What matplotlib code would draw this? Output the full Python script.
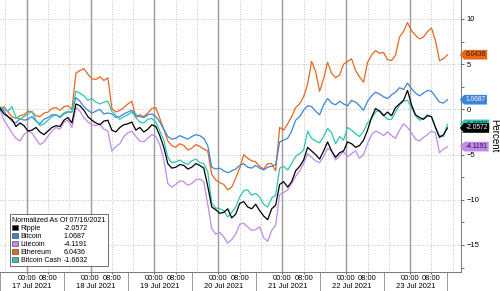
import matplotlib
matplotlib.use("Agg")
import matplotlib.dates as mdates
import matplotlib.pyplot as plt
import pandas as pd
from matplotlib.patches import Patch
from matplotlib.path import Path
from matplotlib.ticker import MultipleLocator

plt.rcParams["font.family"] = ["Liberation Sans", "DejaVu Sans"]

# samples every 1.5 h, starting 16 Jul 14:00
START = "2021-07-16 14:00"
STEP = "90min"

ripple = [0.1, -0.5, -0.8, -1.1, -1.9, -1.5, -1.8, -2.4, -2.3, -2.0,
          -2.5, -2.8, -2.4, -2.0, -1.8, -1.9, -1.2, -0.9, -1.5, 0.6,
          0.4, -0.1, -0.8, -1.2, -1.5, -1.7, -1.3, -1.2, -2.3, -2.5,
          -2.0, -1.7, -1.6, -1.4, -2.3, -2.0, -2.5, -2.2, -1.7, -1.9,
          -2.9, -4.2, -6.0, -6.5, -6.4, -6.1, -6.2, -6.6, -6.4, -6.0,
          -6.2, -6.5, -8.5, -10.8, -11.1, -11.5, -11.4, -11.0, -12.0, -11.6,
          -10.4, -10.2, -10.8, -11.0, -10.5, -11.2, -11.8, -12.2, -11.0, -10.6,
          -8.3, -8.0, -8.6, -8.0, -6.8, -6.3, -5.6, -4.2, -4.6, -5.0,
          -5.5, -4.6, -3.6, -4.6, -5.3, -4.8, -4.6, -3.6, -3.8, -4.2,
          -4.0, -3.4, -2.3, -0.9, 0.1, -0.2, -0.7, -0.3, -0.7, 0.2,
          0.6, 1.0, 2.1, 0.5, -0.6, -0.9, -1.1, -0.7, -0.8, -2.0,
          -3.1, -2.8, -2.0572]
bitcoin = [0.2, -0.2, -0.8, -1.3, -1.5, -1.0, -1.2, -1.1, -0.8, -1.3,
           -1.6, -1.1, -0.9, -0.6, -0.6, -0.9, -0.5, -0.3, -0.3, 1.3,
           0.9, 0.3, -0.1, -0.4, -0.2, 0.0, -0.5, -0.4, -0.5, -0.9,
           -0.8, -0.5, -0.3, -0.1, -0.6, -0.8, -0.9, -0.6, -0.5, -0.8,
           -1.4, -2.2, -3.0, -3.3, -3.2, -2.9, -3.1, -3.3, -3.0, -2.8,
           -2.9, -3.2, -4.0, -6.4, -6.6, -6.5, -6.8, -7.0, -6.8, -6.6,
           -6.2, -6.0, -6.4, -6.5, -6.2, -6.5, -6.7, -6.4, -6.3, -6.1,
           -3.6, -3.4, -3.2, -2.4, -1.2, -0.8, -0.1, 0.4, 0.3, -0.2,
           -0.6, 0.5, 1.2, 0.7, 0.5, 0.9, 0.6, 0.4, 1.0, 0.8,
           0.4, -0.1, 0.9, 1.5, 1.9, 1.7, 1.4, 1.2, 1.6, 1.9,
           2.4, 2.2, 2.9, 2.3, 1.8, 1.5, 1.8, 2.1, 2.0, 1.4,
           0.8, 0.7, 1.0687]
litecoin = [0.0, -1.2, -1.9, -2.6, -3.2, -3.5, -2.8, -2.4, -2.6, -3.3,
            -3.9, -3.6, -3.0, -2.4, -2.0, -2.2, -1.4, -1.2, -2.0, 0.2,
            -0.2, -0.9, -1.4, -1.7, -1.8, -1.6, -2.2, -2.4, -4.6, -4.1,
            -3.8, -3.0, -2.6, -2.4, -3.0, -3.5, -3.6, -3.2, -2.8, -3.0,
            -3.9, -5.6, -8.2, -8.6, -8.3, -7.9, -8.0, -8.4, -8.2, -7.8,
            -7.7, -8.0, -10.5, -13.2, -13.8, -13.6, -14.1, -14.8, -14.4, -13.8,
            -12.7, -12.6, -13.0, -13.4, -13.3, -13.0, -14.2, -14.6, -13.4, -12.8,
            -9.4, -9.2, -8.9, -8.2, -7.4, -6.8, -6.0, -4.9, -5.3, -5.7,
            -5.9, -5.2, -4.3, -4.6, -5.6, -5.1, -4.7, -5.2, -4.9, -4.6,
            -5.4, -5.0, -3.8, -2.8, -2.4, -2.6, -2.9, -2.5, -2.9, -3.2,
            -2.3, -1.6, -2.0, -2.6, -3.3, -3.5, -3.1, -2.8, -2.4, -2.6,
            -4.8, -4.4, -4.1191]
ethereum = [0.1, 0.3, -0.3, -0.8, -1.0, -0.7, -0.6, -0.2, -0.3, -0.7,
            -0.8, -0.4, -0.3, 0.1, 0.2, -0.1, 0.3, 0.4, 0.0, 4.0,
            4.3, 4.5, 3.9, 3.4, 3.3, 3.6, 3.2, 3.5, 0.1, -0.3,
            -0.1, 0.2, 0.6, 0.9, -0.9, -0.6, -0.8, -0.4, 0.1, 0.2,
            -1.0, -2.2, -3.5, -4.0, -4.2, -3.8, -4.0, -4.5, -4.3, -3.9,
            -4.1, -4.4, -4.6, -7.2, -7.8, -8.1, -8.3, -8.9, -8.6, -7.6,
            -6.5, -5.0, -5.4, -5.7, -5.8, -6.3, -6.6, -6.0, -6.0, -6.8,
            -2.0, -2.3, -1.6, -0.8, 0.2, 0.6, 1.4, 2.8, 5.3, 4.2,
            2.0, 3.4, 5.2, 4.0, 3.5, 3.8, 5.0, 5.3, 5.6, 4.3,
            3.6, 3.0, 5.2, 6.0, 6.5, 6.2, 6.3, 5.5, 5.4, 6.0,
            8.0, 8.6, 9.6, 8.7, 8.2, 7.8, 8.0, 8.6, 9.0, 7.6,
            5.4, 5.6, 6.0436]
bitcoin_cash = [0.3, 0.0, -0.2, 0.3, -0.9, -1.1, -0.8, -0.5, -0.2, -1.2,
                -1.8, -1.6, -1.2, -0.8, -0.6, -0.8, -0.4, -0.2, -0.3, 2.0,
                1.8, 1.5, 1.0, 1.2, 0.8, 0.6, 0.8, 0.9, -0.2, -0.7,
                -1.1, -0.8, -0.6, -0.3, -0.9, -1.4, -1.5, -1.1, -1.0, -1.4,
                -2.4, -3.4, -5.3, -5.9, -5.8, -5.6, -5.9, -6.1, -5.7, -5.5,
                -5.9, -6.0, -6.9, -10.4, -10.9, -11.0, -11.2, -11.9, -11.4, -10.8,
                -9.7, -9.0, -8.9, -9.5, -9.3, -9.7, -10.5, -10.8, -9.8, -9.5,
                -6.5, -6.3, -6.7, -6.0, -5.2, -4.9, -4.5, -2.4, -3.2, -3.5,
                -3.7, -3.0, -2.1, -2.6, -3.8, -3.0, -3.4, -2.0, -2.3, -2.7,
                -3.0, -2.4, -1.5, -1.0, -0.3, -0.1, -0.6, -1.1, -1.1, -0.3,
                0.5, 0.9, 1.0, 0.2, -0.7, -1.2, -1.0, -0.6, -0.8, -2.0,
                -2.9, -3.0, -1.6632]

names = ["Ripple", "Bitcoin", "Litecoin", "Ethereum", "Bitcoin Cash"]
last_values = ["-2.0572", "1.0687", "-4.1191", "6.0436", "-1.6632"]
colors = ["#000000", "#3d84d6", "#c08ae8", "#e8671c", "#2cc4b4"]
tag_text_colors = ["white", "white", "#2a1040", "#3a1800", "#0a3030"]
days = pd.date_range("2021-07-16", "2021-07-23", freq="D")
day_labels = ["17 Jul 2021", "18 Jul 2021", "19 Jul 2021", "20 Jul 2021",
              "21 Jul 2021", "22 Jul 2021", "23 Jul 2021"]


def tag_box(x0, y0, width, height, mutation_size):
    # rectangle with a pointed left end, like the last-value tags
    pad = 0.2 * mutation_size
    x0, y0 = x0 - pad, y0 - pad
    x1, y1 = x0 + width + 2 * pad, y0 + height + 2 * pad
    tip = 0.45 * (y1 - y0)
    verts = [(x0, y0), (x1, y0), (x1, y1), (x0, y1), (x0 - tip, (y0 + y1) / 2), (x0, y0)]
    return Path(verts, closed=True)


series = [ripple, bitcoin, litecoin, ethereum, bitcoin_cash]
times = pd.date_range(START, periods=len(ripple), freq=STEP)

fig = plt.figure(figsize=(5, 2.91), dpi=100)
ax = fig.add_axes([0.0, 0.065, 0.922, 0.935])

# vertical grid: solid at midnight, dotted at 08:00 / 16:00
for day in days:
    ax.axvline(day, color="#9a9a9a", lw=1.0, zorder=0)
    for h in (8, 16):
        ax.axvline(day + pd.Timedelta(hours=h), color="#b0b0b0", lw=0.6,
                   ls=(0, (1, 2)), zorder=0)
ax.yaxis.grid(True, color="#b0b0b0", lw=0.6, ls=(0, (1, 2)))
ax.set_axisbelow(True)

draw_order = [2, 3, 1, 4, 0]
for z, i in enumerate(draw_order):
    ax.plot(times, series[i], color=colors[i], lw=0.9, zorder=3 + z)

ax.set_xlim(pd.Timestamp("2021-07-16 14:00"), pd.Timestamp("2021-07-23 19:05"))
ax.set_ylim(-18, 12.1)

for side in ("left", "top"):
    ax.spines[side].set_visible(False)
for side in ("right", "bottom"):
    ax.spines[side].set_color("#777777")
    ax.spines[side].set_linewidth(0.7)

ax.yaxis.tick_right()
ax.yaxis.set_major_locator(MultipleLocator(5))
ax.yaxis.set_minor_locator(MultipleLocator(2.5))
ax.tick_params(axis="y", which="major", labelsize=5.5, length=2.5, width=0.6,
               color="#555555", pad=1.5)
ax.tick_params(axis="y", which="minor", length=2, width=0.6, color="#555555")
ax.yaxis.set_label_position("right")
ax.set_ylabel("Percent", rotation=270, fontsize=7, labelpad=14)

ax.xaxis.set_major_locator(mdates.HourLocator(byhour=[0, 8]))
ax.xaxis.set_major_formatter(mdates.DateFormatter("%H:%M"))
ax.xaxis.set_minor_locator(mdates.HourLocator(byhour=[14]))
ax.tick_params(axis="x", which="major", labelsize=5.5, length=1.5, width=0.6,
               color="#555555", pad=0.5)
ax.tick_params(axis="x", which="minor", length=14, width=0.7, color="#9a9a9a")

for day, label in zip(days[1:], day_labels):
    ax.text(day + pd.Timedelta(hours=2), -0.052, label, fontsize=5.5, ha="center",
            va="center", transform=ax.get_xaxis_transform(), clip_on=False)

# last-value tags on the right
tag_order = [4, 3, 1, 2, 0]
for z, i in enumerate(tag_order):
    ax.annotate(last_values[i], xy=(1, series[i][-1]), xycoords=("axes fraction", "data"),
                xytext=(3.2, 0), textcoords="offset points", fontsize=4.8, va="center",
                ha="left", color=tag_text_colors[i], annotation_clip=False,
                bbox=dict(boxstyle=tag_box, fc=colors[i], ec="none"), zorder=10 + z)

handles = [Patch(facecolor=c, edgecolor="#333333", linewidth=0.4) for c in colors]
blanks = [Patch(facecolor="none", edgecolor="none") for _ in colors]
leg = ax.legend(handles + blanks, names + last_values, ncol=2, loc="lower left",
                bbox_to_anchor=(0.013, 0.008), fontsize=5.1, title="Normalized As Of 07/16/2021",
                title_fontsize=5.1, alignment="left", handlelength=0.8, handleheight=0.8,
                handletextpad=0.4, labelspacing=0.12, columnspacing=-0.75, borderpad=0.35,
                fancybox=False, framealpha=1, edgecolor="#555555")
leg.get_frame().set_linewidth(0.6)
leg.set_zorder(20)

fig.savefig("out.png", dpi=100)
